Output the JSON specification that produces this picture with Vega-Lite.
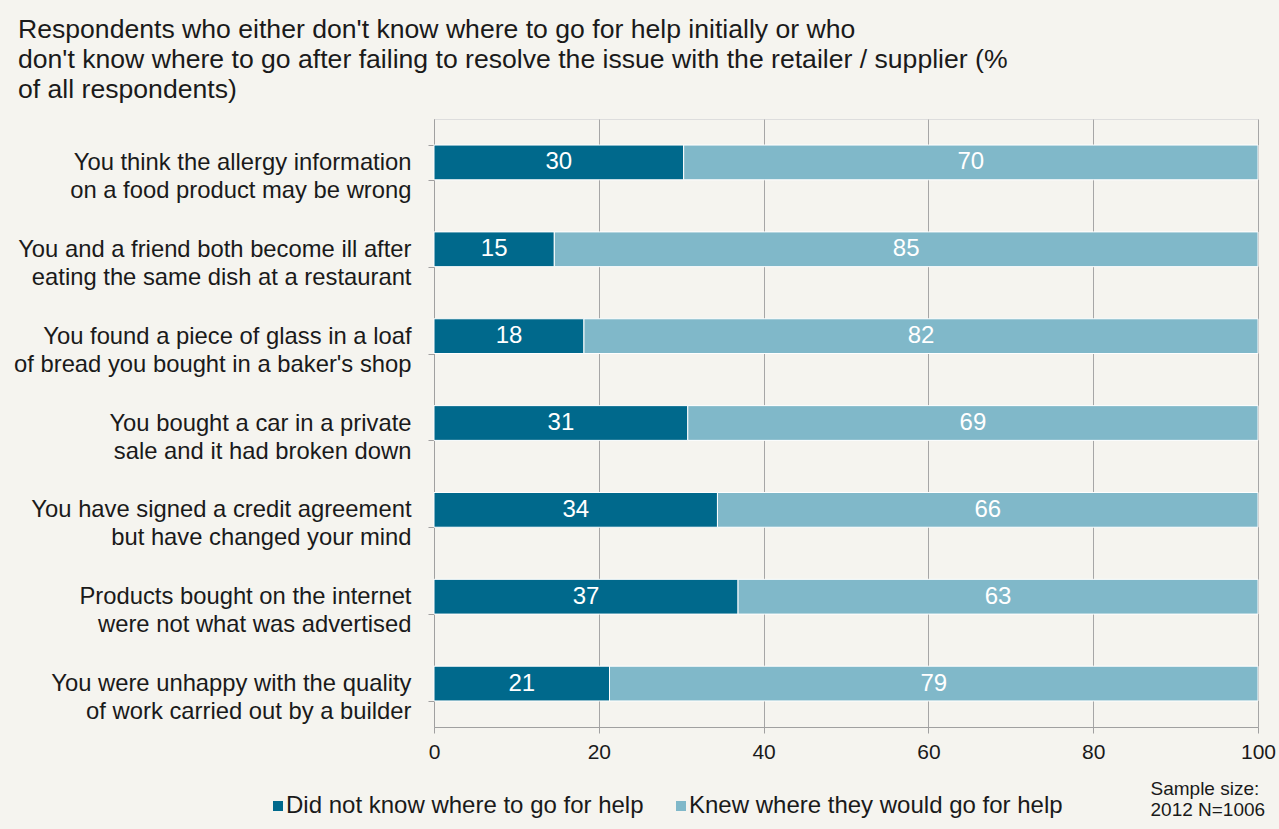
{
  "$schema": "https://vega.github.io/schema/vega-lite/v6.json",
  "autosize": {"type": "none"},
  "width": 824,
  "height": 608,
  "padding": {"left": 434, "top": 119, "right": 21, "bottom": 102},
  "background": "#f5f4ef",
  "title": {
    "text": ["Respondents who either don't know where to go for help initially or who", "don't know where to go after failing to resolve the issue with the retailer / supplier (%", "of all respondents)"],
    "anchor": "start",
    "frame": "group",
    "dx": -416,
    "offset": 3,
    "fontSize": 26.6,
    "lineHeight": 30,
    "font": "Liberation Sans",
    "fontWeight": "normal",
    "color": "#1a1a1a"
  },
  "data": {
    "values": [
      {"q": "You think the allergy information|on a food product may be wrong", "k": "Did not know where to go for help", "o": 1, "v": 30.3},
      {"q": "You think the allergy information|on a food product may be wrong", "k": "Knew where they would go for help", "o": 2, "v": 69.7},
      {"q": "You and a friend both become ill after|eating the same dish at a restaurant", "k": "Did not know where to go for help", "o": 1, "v": 14.6},
      {"q": "You and a friend both become ill after|eating the same dish at a restaurant", "k": "Knew where they would go for help", "o": 2, "v": 85.4},
      {"q": "You found a piece of glass in a loaf|of bread you bought in a baker's shop", "k": "Did not know where to go for help", "o": 1, "v": 18.2},
      {"q": "You found a piece of glass in a loaf|of bread you bought in a baker's shop", "k": "Knew where they would go for help", "o": 2, "v": 81.8},
      {"q": "You bought a car in a private|sale and it had broken down", "k": "Did not know where to go for help", "o": 1, "v": 30.8},
      {"q": "You bought a car in a private|sale and it had broken down", "k": "Knew where they would go for help", "o": 2, "v": 69.2},
      {"q": "You have signed a credit agreement|but have changed your mind", "k": "Did not know where to go for help", "o": 1, "v": 34.4},
      {"q": "You have signed a credit agreement|but have changed your mind", "k": "Knew where they would go for help", "o": 2, "v": 65.6},
      {"q": "Products bought on the internet|were not what was advertised", "k": "Did not know where to go for help", "o": 1, "v": 36.9},
      {"q": "Products bought on the internet|were not what was advertised", "k": "Knew where they would go for help", "o": 2, "v": 63.1},
      {"q": "You were unhappy with the quality|of work carried out by a builder", "k": "Did not know where to go for help", "o": 1, "v": 21.3},
      {"q": "You were unhappy with the quality|of work carried out by a builder", "k": "Knew where they would go for help", "o": 2, "v": 78.7}
    ]
  },
  "encoding": {
    "y": {
      "field": "q",
      "type": "nominal",
      "sort": null,
      "scale": {"paddingInner": 0.6, "paddingOuter": 0.3},
      "axis": {
        "title": null,
        "labelExpr": "split(datum.label, '|')",
        "labelFont": "Liberation Sans",
        "labelFontSize": 23.8,
        "labelLineHeight": 28,
        "labelColor": "#1a1a1a",
        "labelAlign": "right",
        "labelPadding": 17,
        "labelLimit": 500,
        "tickBand": "extent",
        "tickSize": 6,
        "tickColor": "#a0a0a0",
        "domainColor": "#a0a0a0",
        "grid": false
      }
    }
  },
  "layer": [
    {
      "mark": {"type": "bar", "stroke": "white", "strokeWidth": 1},
      "encoding": {
        "x": {
          "field": "v",
          "type": "quantitative",
          "stack": "zero",
          "scale": {"domain": [0, 100], "nice": false},
          "axis": {
            "values": [0, 20, 40, 60, 80, 100],
            "title": ["Sample size:", "2012 N=1006"],
            "titleFont": "Liberation Sans",
            "titleFontSize": 19,
            "titleFontWeight": "normal",
            "titleLineHeight": 21,
            "titleColor": "#1a1a1a",
            "titleAlign": "left",
            "titleBaseline": "top",
            "titleX": 716,
            "titleY": 52,
            "labelFont": "Liberation Sans",
            "labelFontSize": 21,
            "labelColor": "#1a1a1a",
            "labelPadding": 8,
            "labelFlush": false,
            "tickSize": 6,
            "tickColor": "#a0a0a0",
            "domainColor": "#a0a0a0",
            "gridColor": "#a6a6a6",
            "gridWidth": 1
          }
        },
        "color": {
          "field": "k",
          "type": "nominal",
          "scale": {"domain": ["Did not know where to go for help", "Knew where they would go for help"], "range": ["#00698c", "#80b8c9"]},
          "legend": {
            "title": null,
            "orient": "none",
            "legendX": -168,
            "legendY": 675,
            "direction": "horizontal",
            "symbolType": "square",
            "symbolSize": 100,
            "symbolStrokeWidth": 0,
            "labelFont": "Liberation Sans",
            "labelFontSize": 24,
            "labelColor": "#1a1a1a",
            "labelOffset": -4,
            "columnPadding": 25,
            "labelLimit": 500
          }
        },
        "order": {"field": "o", "type": "quantitative"}
      }
    },
    {
      "mark": {"type": "text", "color": "white", "font": "Liberation Sans", "fontSize": 24, "align": "center", "baseline": "middle"},
      "encoding": {
        "x": {"field": "v", "type": "quantitative", "stack": "zero", "bandPosition": 0.5},
        "text": {"field": "v", "type": "quantitative", "format": ".0f"},
        "order": {"field": "o", "type": "quantitative"}
      }
    }
  ]
}
